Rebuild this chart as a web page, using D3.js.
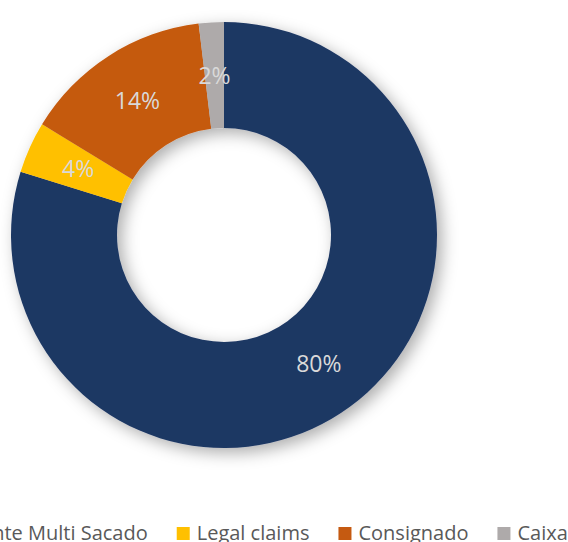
<!DOCTYPE html>
<html>
<head>
<meta charset="utf-8">
<script src="https://cdn.jsdelivr.net/npm/d3@7"></script>
<style>
  html, body { margin: 0; padding: 0; background: #fff; overflow: hidden; }
  text { font-family: "Open Sans", sans-serif; }
</style>
</head>
<body>
<div id="chart"></div>
<script>
// slice data, clockwise from 12 o'clock
const categories = ['Multi Cedente Multi Sacado', 'Legal claims', 'Consignado', 'Caixa'];
const shares = [79.8, 3.9, 14.4, 1.9];
const labels = ['80%', '4%', '14%', '2%'];
const colors = ['#1F3864', '#FFC000', '#C55A11', '#AEAAAA'];

const width = 568;
const height = 542;
const cx = 224, cy = 235;
const outerR = 213, innerR = 107;

const data = categories.map((c, i) => ({ name: c, value: shares[i], label: labels[i], color: colors[i] }));

const svg = d3.select('#chart')
    .append('svg')
    .attr('width', width)
    .attr('height', height);

const defs = svg.append('defs');
const shadow = defs.append('filter')
    .attr('id', 'shadow')
    .attr('x', '-25%').attr('y', '-25%')
    .attr('width', '150%').attr('height', '150%');
shadow.append('feDropShadow')
    .attr('dx', 5).attr('dy', 5)
    .attr('stdDeviation', 8)
    .attr('flood-color', '#000')
    .attr('flood-opacity', 0.32);

const pie = d3.pie()
    .value(d => d.value)
    .sort(null);

const arc = d3.arc()
    .innerRadius(innerR)
    .outerRadius(outerR);

const g = svg.append('g')
    .attr('transform', `translate(${cx},${cy})`);

g.append('g')
    .attr('filter', 'url(#shadow)')
    .selectAll('path')
    .data(pie(data))
    .enter()
    .append('path')
    .attr('d', arc)
    .attr('fill', d => d.data.color);

g.selectAll('.slice-label')
    .data(pie(data))
    .enter()
    .append('text')
    .attr('class', 'slice-label')
    .attr('transform', d => `translate(${arc.centroid(d)})`)
    .attr('text-anchor', 'middle')
    .attr('dy', '0.36em')
    .style('font-size', '23px')
    .style('fill', '#D9D9D9')
    .text(d => d.data.label);

// legend row, centred under the donut
const legend = svg.append('g').attr('class', 'legend');
const items = legend.selectAll('.item')
    .data(data)
    .enter()
    .append('g')
    .attr('class', 'item');

items.append('rect')
    .attr('width', 13)
    .attr('height', 13)
    .attr('y', -13)
    .attr('fill', d => d.color);

items.append('text')
    .attr('x', 20)
    .style('font-size', '20px')
    .style('fill', '#595959')
    .text(d => d.name);

let offset = 0;
items.each(function () {
    const w = d3.select(this).select('text').node().getComputedTextLength();
    d3.select(this).attr('transform', `translate(${offset},0)`);
    offset += 20 + w + 29;
});
const total = offset - 29;
legend.attr('transform', `translate(${cx - 4 - total / 2},540)`);
</script>
</body>
</html>
